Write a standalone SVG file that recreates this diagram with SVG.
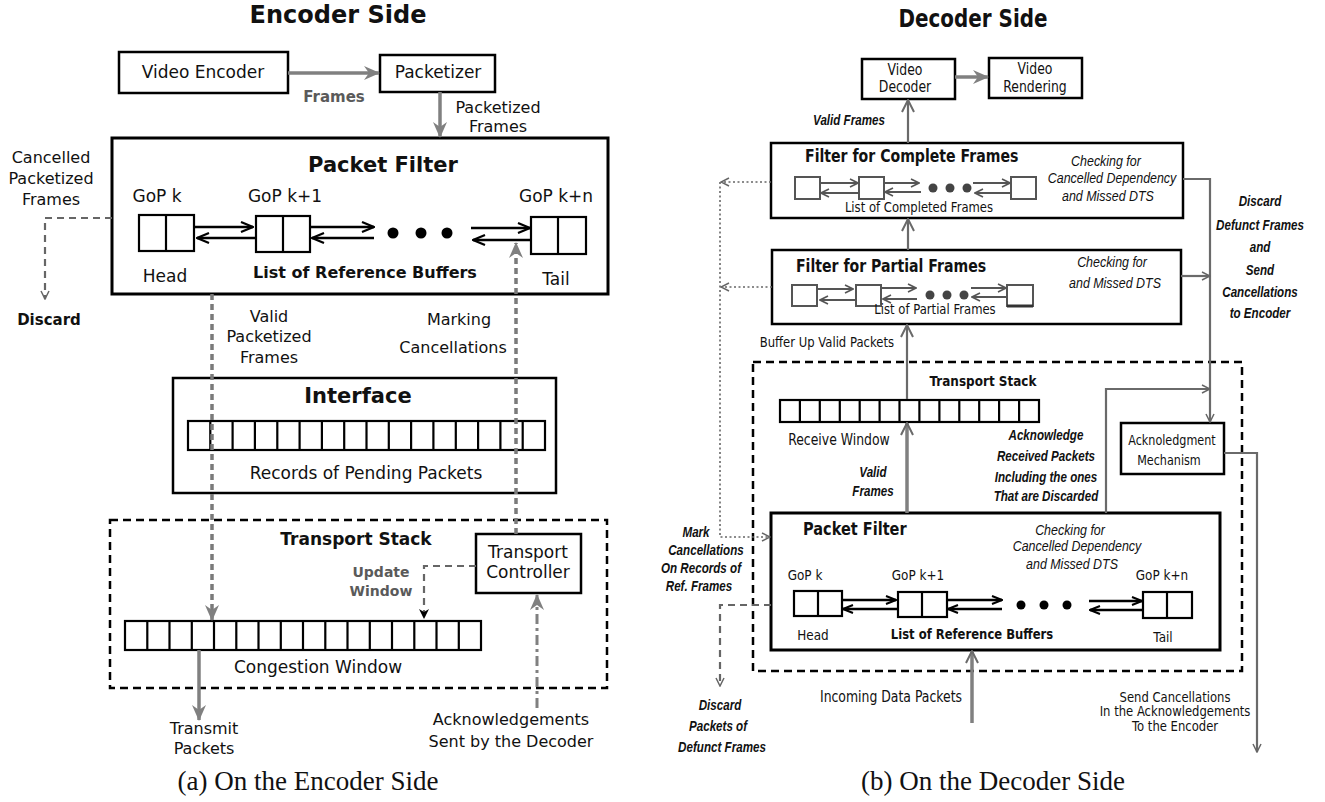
<svg xmlns="http://www.w3.org/2000/svg" width="1325" height="802" viewBox="0 0 1325 802">
<defs>
  <style>
    .t{font-family:"DejaVu Sans","Liberation Sans",sans-serif;fill:#111}
    .it{font-family:"Liberation Sans",Arial,sans-serif;font-style:italic;fill:#111}
    .bi{font-family:"Liberation Sans",Arial,sans-serif;font-style:italic;font-weight:bold;fill:#111}
    .b{font-weight:bold}
    .c{text-anchor:middle}
    .e{text-anchor:end}
    .g{fill:#5a5a5a}
    .sq{transform:scale(0.83,1)}
    .cap{font-family:"Liberation Serif","Times New Roman",serif;font-size:27px;fill:#111;text-anchor:middle}
    .box{fill:#fff;stroke:#000;stroke-width:2.5}
    .box3{fill:#fff;stroke:#000;stroke-width:3}
    .cell{fill:none;stroke:#000;stroke-width:2.2}
    .gcell{fill:#fff;stroke:#555;stroke-width:2}
    .dash{fill:none;stroke:#000;stroke-width:2.5;stroke-dasharray:8 5}
    .bl{fill:none;stroke:#000;stroke-width:2.5}
    .gl{fill:none;stroke:#555;stroke-width:2}
    .ga{fill:none;stroke:#808080;stroke-width:3.5}
    .gd{fill:none;stroke:#7a7a7a;stroke-width:3.5;stroke-dasharray:6 4}
    .gdt{fill:none;stroke:#666;stroke-width:2.2;stroke-dasharray:7 5}
    .dd{fill:none;stroke:#808080;stroke-width:3;stroke-dasharray:10 4 3 4}
    .dl{fill:none;stroke:#6a6a6a;stroke-width:2.2}
    .dt{fill:none;stroke:#666;stroke-width:1.6;stroke-dasharray:2 2.5}
  </style>
  <marker id="mGs" viewBox="0 0 16 16" refX="15" refY="8" markerWidth="16" markerHeight="16" markerUnits="userSpaceOnUse" orient="auto">
    <path d="M0,1 L16,8 L0,15 L5,8 z" fill="#808080"/>
  </marker>
  <marker id="mBkL" viewBox="0 0 14 12" refX="13" refY="6" markerWidth="14" markerHeight="12" markerUnits="userSpaceOnUse" orient="auto">
    <path d="M1,1 L13,6 L1,11" fill="none" stroke="#000" stroke-width="2.2"/>
  </marker>
  <marker id="mBk" viewBox="0 0 12 10" refX="11" refY="5" markerWidth="12" markerHeight="10" markerUnits="userSpaceOnUse" orient="auto">
    <path d="M1,1 L11,5 L1,9" fill="none" stroke="#000" stroke-width="2"/>
  </marker>
  <marker id="mDg" viewBox="0 0 10 10" refX="9" refY="5" markerWidth="10" markerHeight="10" markerUnits="userSpaceOnUse" orient="auto">
    <path d="M1,1 L9,5 L1,9" fill="none" stroke="#555" stroke-width="1.6"/>
  </marker>
  <marker id="mDo" viewBox="0 0 14 14" refX="13" refY="7" markerWidth="14" markerHeight="14" markerUnits="userSpaceOnUse" orient="auto">
    <path d="M1,1 L13,7 L1,13" fill="none" stroke="#6a6a6a" stroke-width="2"/>
  </marker>
  <marker id="mDs" viewBox="0 0 10 10" refX="9" refY="5" markerWidth="10" markerHeight="10" markerUnits="userSpaceOnUse" orient="auto">
    <path d="M1,1 L9,5 L1,9" fill="none" stroke="#666" stroke-width="1.5"/>
  </marker>
  <marker id="mBs" viewBox="0 0 10 10" refX="10" refY="5" markerWidth="10" markerHeight="10" markerUnits="userSpaceOnUse" orient="auto">
    <path d="M0,0 L10,5 L0,10 L3,5 z" fill="#000"/>
  </marker>
</defs>
<rect width="1325" height="802" fill="#fff"/>

<!-- ===================== Encoder side ===================== -->
<g id="enc-title"><text class="t b c" x="338" y="23" font-size="24">Encoder Side</text></g>

<g id="video-encoder">
  <rect class="box" x="119" y="52" width="169" height="41"/>
  <text class="t c" x="203" y="78" font-size="17">Video Encoder</text>
</g>

<g id="packetizer">
  <rect class="box" x="380" y="55" width="115" height="37"/>
  <text class="t c" x="438" y="78" font-size="17">Packetizer</text>
</g>

<g id="packet-filter-enc">
  <rect class="box3" x="112" y="138" width="496" height="156"/>
  <text class="t b c" x="383" y="172" font-size="21">Packet Filter</text>
  <text class="t c" x="157" y="202" font-size="17">GoP k</text>
  <text class="t c" x="285" y="202" font-size="17">GoP k+1</text>
  <text class="t c" x="556" y="202" font-size="17">GoP k+n</text>
  <rect class="cell" x="139" y="215" width="55" height="36"/><path class="cell" d="M166,215 V251"/>
  <rect class="cell" x="256" y="216" width="54" height="36"/><path class="cell" d="M283,216 V252"/>
  <rect class="cell" x="531" y="217" width="55" height="37"/><path class="cell" d="M558,217 V254"/>
  <path class="bl" d="M194,227 H253" marker-end="url(#mBkL)"/>
  <path class="bl" d="M256,238 H197" marker-end="url(#mBkL)"/>
  <path class="bl" d="M310,227 H374" marker-end="url(#mBkL)"/>
  <path class="bl" d="M374,238 H312" marker-end="url(#mBkL)"/>
  <path class="bl" d="M471,228 H530" marker-end="url(#mBkL)"/>
  <path class="bl" d="M531,240 H473" marker-end="url(#mBkL)"/>
  <circle cx="393" cy="233" r="5.5"/><circle cx="421" cy="233" r="5.5"/><circle cx="447" cy="233" r="5.5"/>
  <text class="t c" x="165" y="282" font-size="17">Head</text>
  <text class="t b c" x="365" y="278" font-size="16">List of Reference Buffers</text>
  <text class="t c" x="556" y="285" font-size="17">Tail</text>
</g>

<g id="interface">
  <rect class="box" x="173" y="378" width="383" height="115"/>
  <text class="t b c" x="358" y="403" font-size="21">Interface</text>
  <rect class="cell" x="188" y="421" width="357" height="29"/>
  <path class="cell" d="M210.3,421V450M232.6,421V450M254.9,421V450M277.3,421V450M299.6,421V450M321.9,421V450M344.2,421V450M366.5,421V450M388.8,421V450M411.1,421V450M433.4,421V450M455.8,421V450M478.1,421V450M500.4,421V450M522.7,421V450"/>
  <text class="t c" x="366" y="479" font-size="17">Records of Pending Packets</text>
</g>

<g id="transport-stack-enc">
  <rect class="dash" x="110" y="520" width="497" height="168"/>
  <text class="t b c" x="356" y="545" font-size="17">Transport Stack</text>
  <rect class="cell" x="125" y="621" width="356" height="29"/>
  <path class="cell" d="M147.3,621V650M169.5,621V650M191.8,621V650M214,621V650M236.3,621V650M258.5,621V650M280.8,621V650M303,621V650M325.3,621V650M347.5,621V650M369.8,621V650M392,621V650M414.3,621V650M436.5,621V650M458.8,621V650"/>
  <text class="t c" x="318" y="673" font-size="17">Congestion Window</text>
</g>

<g id="transport-controller">
  <rect class="box" x="476" y="534" width="105" height="59"/>
  <text class="t c" x="528" y="558" font-size="17">Transport</text>
  <text class="t c" x="528" y="578" font-size="17">Controller</text>
</g>

<g id="connectors-enc">
  <path class="ga" d="M288,73 H379" marker-end="url(#mGs)"/>
  <path class="ga" d="M440,92 V137" marker-end="url(#mGs)"/>
  <path class="gdt" d="M112,218 H45 V299" marker-end="url(#mDs)"/>
  <path class="gd" d="M212,294 V620" marker-end="url(#mGs)"/>
  <path class="gd" d="M516,534 V243" marker-end="url(#mGs)"/>
  <path class="gdt" d="M476,566 H424 V619" marker-end="url(#mBs)"/>
  <path class="ga" d="M199,650 V720" marker-end="url(#mGs)"/>
  <path class="dd" d="M537,708 V595" marker-end="url(#mGs)"/>
  <text class="t b c g" x="334" y="102" font-size="15">Frames</text>
  <text class="t c" x="498" y="113" font-size="16">Packetized</text>
  <text class="t c" x="498" y="132" font-size="16">Frames</text>
  <text class="t c" x="51" y="163" font-size="16">Cancelled</text>
  <text class="t c" x="51" y="184" font-size="16">Packetized</text>
  <text class="t c" x="51" y="205" font-size="16">Frames</text>
  <text class="t b c" x="49" y="325" font-size="15">Discard</text>
  <text class="t c" x="269" y="322" font-size="16">Valid</text>
  <text class="t c" x="269" y="342" font-size="16">Packetized</text>
  <text class="t c" x="269" y="363" font-size="16">Frames</text>
  <text class="t c" x="459" y="325" font-size="16">Marking</text>
  <text class="t c" x="453" y="353" font-size="16">Cancellations</text>
  <text class="t b c g" x="381" y="577" font-size="14">Update</text>
  <text class="t b c g" x="381" y="596" font-size="14">Window</text>
  <text class="t c" x="204" y="734" font-size="16">Transmit</text>
  <text class="t c" x="204" y="754" font-size="16">Packets</text>
  <text class="t c" x="511" y="725" font-size="16">Acknowledgements</text>
  <text class="t c" x="511" y="747" font-size="16">Sent by the Decoder</text>
</g>

<g id="caption-a"><text class="cap" x="308" y="790">(a) On the Encoder Side</text></g>

<!-- ===================== Decoder side ===================== -->
<g id="dec-title"><text class="t b c sq" x="1172.3" y="27" font-size="24">Decoder Side</text></g>

<g id="video-decoder">
  <rect class="box" x="862" y="59" width="93" height="40"/>
  <text class="t c sq" x="1090.4" y="75" font-size="15">Video</text>
  <text class="t c sq" x="1090.4" y="92" font-size="15">Decoder</text>
</g>

<g id="video-rendering">
  <rect class="box" x="989" y="58" width="93" height="40"/>
  <text class="t c sq" x="1247" y="74" font-size="15">Video</text>
  <text class="t c sq" x="1247" y="92" font-size="15">Rendering</text>
</g>

<g id="complete-filter">
  <rect class="box" x="771" y="143" width="412" height="75"/>
  <text class="t b sq" x="969.9" y="162" font-size="17">Filter for Complete Frames</text>
  <text class="it c sq" x="1332.5" y="166" font-size="15">Checking for</text>
  <text class="it c sq" x="1339.8" y="183" font-size="15">Cancelled Dependency</text>
  <text class="it c sq" x="1334.9" y="201" font-size="15">and Missed DTS</text>
  <rect class="gcell" x="795" y="177" width="25" height="22"/>
  <rect class="gcell" x="859" y="177" width="25" height="22"/>
  <rect class="gcell" x="1011" y="177" width="25" height="22"/>
  <path class="gl" d="M820,183 H858" marker-end="url(#mDg)"/>
  <path class="gl" d="M858,193 H821" marker-end="url(#mDg)"/>
  <path class="gl" d="M884,183 H919" marker-end="url(#mDg)"/>
  <path class="gl" d="M921,192 H885" marker-end="url(#mDg)"/>
  <path class="gl" d="M973,183 H1010" marker-end="url(#mDg)"/>
  <path class="gl" d="M1010,193 H975" marker-end="url(#mDg)"/>
  <g fill="#444"><circle cx="933" cy="188" r="4.5"/><circle cx="950" cy="188" r="4.5"/><circle cx="967" cy="188" r="4.5"/></g>
  <text class="t c sq" x="1107.2" y="212" font-size="14">List of Completed Frames</text>
</g>

<g id="partial-filter">
  <rect class="box" x="772" y="250" width="409" height="74"/>
  <text class="t b sq" x="959" y="272" font-size="17">Filter for Partial Frames</text>
  <text class="it c sq" x="1339.8" y="267" font-size="15">Checking for</text>
  <text class="it c sq" x="1343.4" y="288" font-size="15">and Missed DTS</text>
  <rect class="gcell" x="792" y="285" width="25" height="21"/>
  <rect class="gcell" x="856" y="285" width="25" height="21"/>
  <rect class="gcell" x="1007" y="285" width="26" height="21"/>
  <path d="M1007,306 H1033" stroke="#333" stroke-width="3"/>
  <path class="gl" d="M817,289 H853" marker-end="url(#mDg)"/>
  <path class="gl" d="M856,300 H820" marker-end="url(#mDg)"/>
  <path class="gl" d="M881,288 H916" marker-end="url(#mDg)"/>
  <path class="gl" d="M917,299 H883" marker-end="url(#mDg)"/>
  <path class="gl" d="M971,288 H1006" marker-end="url(#mDg)"/>
  <path class="gl" d="M1007,297 H972" marker-end="url(#mDg)"/>
  <g fill="#444"><circle cx="930" cy="295" r="4.5"/><circle cx="947" cy="295" r="4.5"/><circle cx="964" cy="295" r="4.5"/></g>
  <text class="t c sq" x="1126.5" y="314" font-size="14">List of Partial Frames</text>
</g>

<g id="transport-stack-dec">
  <path class="dash" d="M753,362 H1242 V671 H753 Z"/>
  <text class="t b c sq" x="1184.3" y="386" font-size="14.5">Transport Stack</text>
  <rect class="cell" x="780" y="400" width="259" height="22"/>
  <path class="cell" d="M799.9,400V422M819.8,400V422M839.8,400V422M859.7,400V422M879.6,400V422M899.5,400V422M919.4,400V422M939.4,400V422M959.3,400V422M979.2,400V422M999.1,400V422M1019.1,400V422"/>
  <text class="t c sq" x="1010.8" y="445" font-size="15">Receive Window</text>
</g>

<g id="ack-mechanism">
  <rect class="box" x="1121" y="423" width="103" height="51"/>
  <text class="t c sq" x="1412" y="445" font-size="13.5">Acknoledgment</text>
  <text class="t c sq" x="1408.4" y="465" font-size="13.5">Mechanism</text>
</g>

<g id="packet-filter-dec">
  <rect class="box3" x="771" y="513" width="449" height="137"/>
  <text class="t b sq" x="967.5" y="535" font-size="17.5">Packet Filter</text>
  <text class="it c sq" x="1289.2" y="535" font-size="15">Checking for</text>
  <text class="it c sq" x="1297.6" y="551" font-size="15">Cancelled Dependency</text>
  <text class="it c sq" x="1291.6" y="569" font-size="15">and Missed DTS</text>
  <text class="t c sq" x="969.9" y="580" font-size="14.5">GoP k</text>
  <text class="t c sq" x="1106" y="580" font-size="14.5">GoP k+1</text>
  <text class="t c sq" x="1400" y="580" font-size="14.5">GoP k+n</text>
  <rect class="cell" x="794" y="591" width="48" height="25"/><path class="cell" d="M818,591 V616"/>
  <rect class="cell" x="898" y="592" width="49" height="25"/><path class="cell" d="M922,592 V617"/>
  <rect class="cell" x="1143" y="592" width="49" height="26"/><path class="cell" d="M1167,592 V618"/>
  <path class="bl" d="M842,600 H896" marker-end="url(#mBk)"/>
  <path class="bl" d="M898,609 H843" marker-end="url(#mBk)"/>
  <path class="bl" d="M947,600 H1002" marker-end="url(#mBk)"/>
  <path class="bl" d="M1002,609 H948" marker-end="url(#mBk)"/>
  <path class="bl" d="M1089,601 H1142" marker-end="url(#mBk)"/>
  <path class="bl" d="M1143,610 H1090" marker-end="url(#mBk)"/>
  <circle cx="1021" cy="605" r="4.5"/><circle cx="1044" cy="605" r="4.5"/><circle cx="1067" cy="605" r="4.5"/>
  <text class="t c sq" x="979.5" y="640" font-size="14.5">Head</text>
  <text class="t b c sq" x="1171.1" y="639" font-size="14">List of Reference Buffers</text>
  <text class="t c sq" x="1401.2" y="642" font-size="14.5">Tail</text>
</g>

<g id="connectors-dec">
  <path class="ga" d="M955,77 H988" marker-end="url(#mGs)"/>
  <path class="dl" d="M908,143 V100" marker-end="url(#mDo)"/>
  <path class="dl" d="M908,250 V219" marker-end="url(#mDo)"/>
  <path class="dl" d="M907,399 V325" marker-end="url(#mDo)"/>
  <path class="ga" d="M907,513 V423" marker-end="url(#mDo)"/>
  <path class="ga" d="M972,723 V651" marker-end="url(#mDo)"/>
  <path class="dt" d="M771,182 H721" marker-end="url(#mDs)"/>
  <path class="dt" d="M772,287 H721" marker-end="url(#mDs)"/>
  <path class="dt" d="M720,182 V537 H770" marker-end="url(#mDs)"/>
  <path class="dl" d="M1183,179 H1210 V422" marker-end="url(#mDs)"/>
  <path class="dl" d="M1181,276 H1210" marker-end="url(#mDs)"/>
  <path class="dl" d="M1106,513 V389 H1210" marker-end="url(#mDs)"/>
  <path class="dl" d="M1224,453 H1257 V752" marker-end="url(#mDs)"/>
  <path class="gdt" d="M771,605 H720 V686" marker-end="url(#mDs)"/>
  <text class="bi c sq" x="1022.9" y="125" font-size="14">Valid Frames</text>
  <text class="bi c sq" x="1518.1" y="206" font-size="14">Discard</text>
  <text class="bi c sq" x="1518.1" y="230" font-size="14">Defunct Frames</text>
  <text class="bi c sq" x="1518.1" y="252" font-size="14">and</text>
  <text class="bi c sq" x="1518.1" y="275" font-size="14">Send</text>
  <text class="bi c sq" x="1518.1" y="297" font-size="14">Cancellations</text>
  <text class="bi c sq" x="1518.1" y="318" font-size="14">to Encoder</text>
  <text class="t e sq" x="1077.1" y="347" font-size="14">Buffer Up Valid Packets</text>
  <text class="bi c sq" x="1051.8" y="477" font-size="14">Valid</text>
  <text class="bi c sq" x="1051.8" y="496" font-size="14">Frames</text>
  <text class="bi c sq" x="1260.2" y="440" font-size="14">Acknowledge</text>
  <text class="bi c sq" x="1260.2" y="461" font-size="14">Received Packets</text>
  <text class="bi c sq" x="1260.2" y="482" font-size="14">Including the ones</text>
  <text class="bi c sq" x="1260.2" y="501" font-size="14">That are Discarded</text>
  <text class="bi c sq" x="838.6" y="537" font-size="14">Mark</text>
  <text class="bi c sq" x="850.6" y="555" font-size="14">Cancellations</text>
  <text class="bi c sq" x="844.6" y="573" font-size="14">On Records of</text>
  <text class="bi c sq" x="842.2" y="591" font-size="14">Ref. Frames</text>
  <text class="bi c sq" x="867.5" y="710" font-size="14">Discard</text>
  <text class="bi c sq" x="865.1" y="731" font-size="14">Packets of</text>
  <text class="bi c sq" x="869.9" y="752" font-size="14">Defunct Frames</text>
  <text class="t c sq" x="1073.5" y="702" font-size="15">Incoming Data Packets</text>
  <text class="t c sq" x="1415.7" y="702" font-size="14">Send Cancellations</text>
  <text class="t c sq" x="1415.7" y="716" font-size="14">In the Acknowledgements</text>
  <text class="t c sq" x="1415.7" y="731" font-size="14">To the Encoder</text>
</g>

<g id="caption-b"><text class="cap" x="993" y="790">(b) On the Decoder Side</text></g>
</svg>
